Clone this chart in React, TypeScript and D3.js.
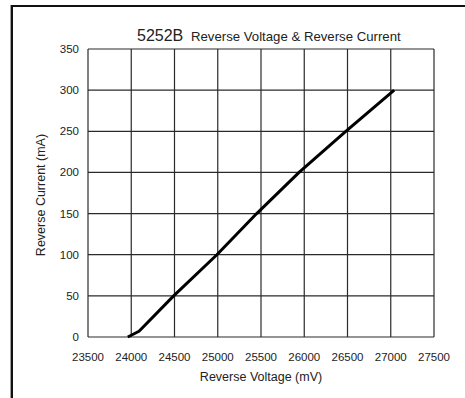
import React from "react";
import * as d3 from "d3";

const voltage = [23960, 24090, 24490, 24990, 25450, 25940, 26480, 27040];
const current = [0, 7, 50, 100, 150, 200, 250, 300];
const xTicks = [23500, 24000, 24500, 25000, 25500, 26000, 26500, 27000, 27500];
const yTicks = [0, 50, 100, 150, 200, 250, 300, 350];

const W = 465;
const H = 398;
const M = { left: 88, right: 434, top: 49, bottom: 337 };

export default function App() {
  const x = d3.scaleLinear().domain([23500, 27500]).range([M.left, M.right]);
  const y = d3.scaleLinear().domain([0, 350]).range([M.bottom, M.top]);
  const pts = voltage.map((v, i) => [v, current[i]] as [number, number]);
  const line = d3
    .line<[number, number]>()
    .x((d) => x(d[0]))
    .y((d) => y(d[1]));
  const font = "Liberation Sans, Arial, sans-serif";
  const grid = "#2a2a2a";
  return (
    <svg
      width={W}
      height={H}
      style={{ position: "absolute", left: 0, top: 0, background: "#fff" }}
      fontFamily={font}
    >
      <rect x={0} y={0} width={W} height={H} fill="#fff" />
      {/* frame */}
      <line x1={11.5} x2={W} y1={6} y2={6} stroke="#111" strokeWidth={2} />
      <line x1={11.8} x2={11.8} y1={5} y2={H} stroke="#111" strokeWidth={2.4} />
      {/* grid */}
      {xTicks.map((t) => (
        <line key={"gx" + t} x1={x(t)} x2={x(t)} y1={M.top} y2={M.bottom} stroke={grid} strokeWidth={1.2} />
      ))}
      {yTicks.map((t) => (
        <line key={"gy" + t} x1={M.left} x2={M.right} y1={y(t)} y2={y(t)} stroke={grid} strokeWidth={1.2} />
      ))}
      {/* tick labels */}
      {xTicks.map((t) => (
        <text key={"tx" + t} x={x(t)} y={361} textAnchor="middle" fontSize={11.5} fill="#222">
          {t}
        </text>
      ))}
      {yTicks.map((t) => (
        <text key={"ty" + t} x={79} y={y(t) + 4} textAnchor="end" fontSize={11.5} fill="#222">
          {t}
        </text>
      ))}
      {/* data line */}
      <path d={line(pts) || ""} fill="none" stroke="#000" strokeWidth={3} strokeLinejoin="round" />
      {/* titles */}
      <text x={137} y={41} fontSize={16} fill="#222">
        5252B
      </text>
      <text x={191} y={41} fontSize={13.2} fill="#222">
        Reverse Voltage &amp; Reverse Current
      </text>
      <text x={(M.left + M.right) / 2} y={381} textAnchor="middle" fontSize={12.5} fill="#222">
        Reverse Voltage (mV)
      </text>
      <text
        transform={`translate(45, ${(M.top + M.bottom) / 2 + 2}) rotate(-90)`}
        textAnchor="middle"
        fontSize={12.5}
        fill="#222"
      >
        Reverse Current (mA)
      </text>
    </svg>
  );
}
